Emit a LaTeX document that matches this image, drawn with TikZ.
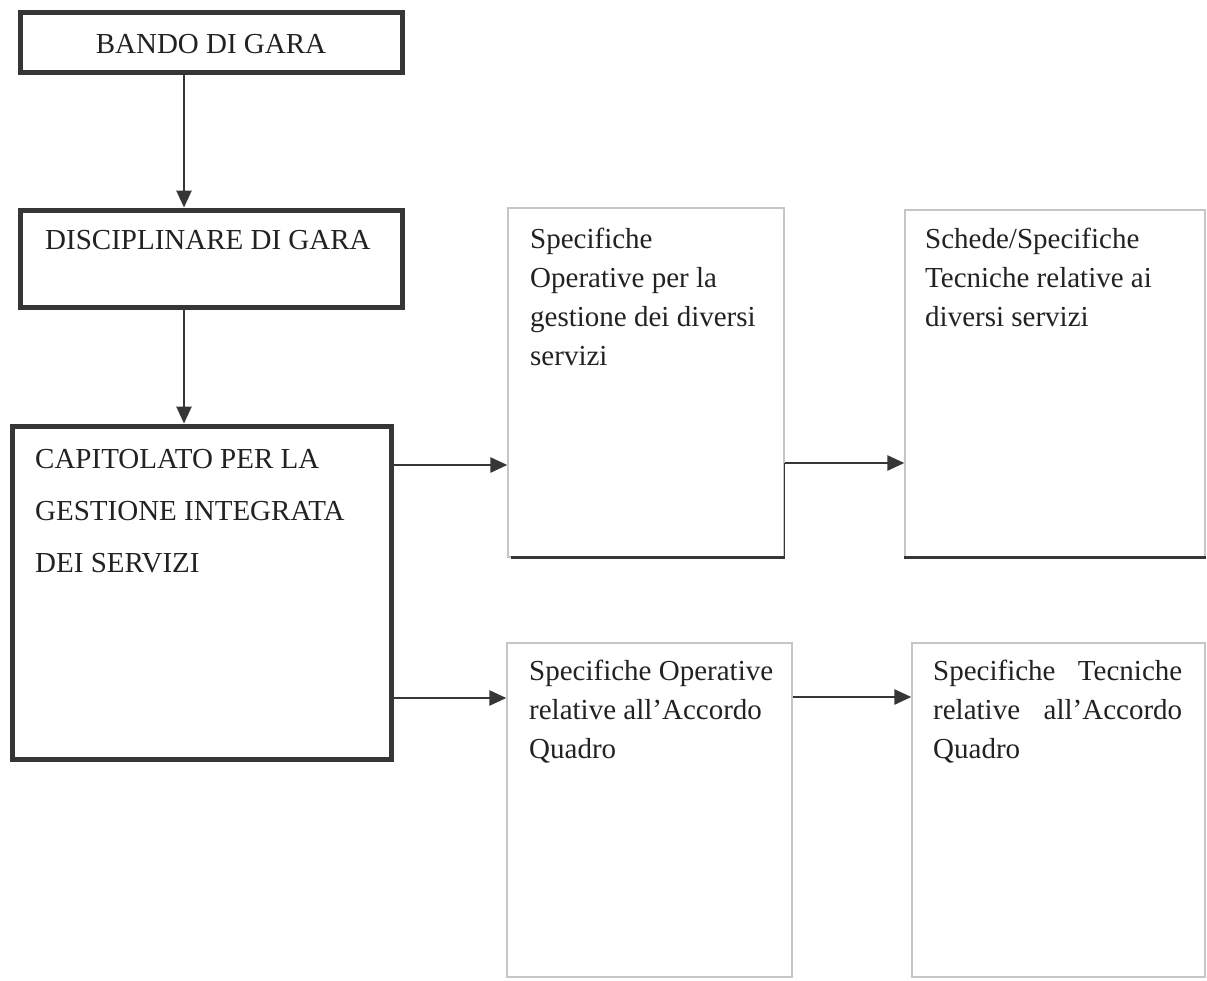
\documentclass[tikz,border=0pt]{standalone}
\usepackage{fontspec}
\setmainfont{Liberation Serif}
\usetikzlibrary{arrows.meta}
\definecolor{ink}{HTML}{222222}
\definecolor{frame}{HTML}{363636}
\definecolor{pale}{HTML}{C6C6C6}
\tikzset{
  thickbox/.style={draw=frame, line width=5pt, inner sep=0pt},
  palebox/.style={draw=pale, line width=1.3pt, inner sep=0pt},
  txt/.style={text=ink, inner sep=0pt, anchor=base west, align=flush left, font=\fontsize{29}{39}\selectfont},
  arr/.style={draw=frame, line width=2.6pt, -{Triangle[length=17pt,width=15pt]}},
  darkedge/.style={draw=frame, line width=2.6pt},
  sideedge/.style={draw=frame, line width=1.6pt},
}
\begin{document}
\begin{tikzpicture}[x=1pt,y=-1pt]
\useasboundingbox (0,0) rectangle (1207,980);
\fill[white] (0,0) rectangle (1207,980);

% boxes
\node[thickbox, minimum width=382pt, minimum height=60pt] (bando) at (211,42) {};
\node[thickbox, minimum width=382pt, minimum height=97pt] (disc) at (211,258.5) {};
\node[thickbox, minimum width=379pt, minimum height=333pt] (capit) at (201.5,592.5) {};
\node[palebox, minimum width=276pt, minimum height=349pt] (so1) at (646,382.5) {};
\node[palebox, minimum width=300pt, minimum height=347pt] (schede) at (1055,383.5) {};
\node[palebox, minimum width=285pt, minimum height=334pt] (soaq) at (649.5,810) {};
\node[palebox, minimum width=293pt, minimum height=334pt] (staq) at (1058.5,810) {};

% texts
\node[txt, anchor=base] (tbando) at (211,53) {BANDO DI GARA};
\node[txt] (tdisc) at (45,249) {DISCIPLINARE DI GARA};
\node[txt, text width=350pt, font=\fontsize{29}{52}\selectfont] (tcap) at (35,468) {CAPITOLATO PER LA\\GESTIONE INTEGRATA\\DEI SERVIZI};
\node[txt, text width=250pt] (tso1) at (530,248) {Specifiche\\Operative per la\\gestione dei diversi\\servizi};
\node[txt, text width=275pt] (tsch) at (925,248) {Schede/Specifiche\\Tecniche relative ai\\diversi servizi};
\node[txt, text width=260pt] (tsoaq) at (529,680) {Specifiche Operative\\relative all’Accordo\\Quadro};
\node[txt, text width=249pt] (tstaq) at (933,680) {Specifiche\hfill Tecniche\\relative\hfill all’Accordo\\Quadro};

% connectors
\coordinate (ax) at (184,0);
\coordinate (r1) at (0,465);
\coordinate (r2) at (0,463);
\coordinate (r3) at (0,698);
\coordinate (r4) at (0,697);
\draw[arr] (bando.south -| ax) -- (disc.north -| ax);
\draw[arr] (disc.south -| ax) -- (capit.north -| ax);
\draw[arr] (capit.east |- r1) -- (so1.west |- r1);
\draw[arr] (so1.east |- r2) -- (schede.west |- r2);
\draw[arr] (capit.east |- r3) -- (soaq.west |- r3);
\draw[arr] (soaq.east |- r4) -- (staq.west |- r4);

% dark edges
\draw[sideedge] (so1.east |- r2) -- (so1.south east);
\draw[darkedge] ([xshift=4pt]so1.south west) -- (so1.south east);
\draw[darkedge] (schede.south west) -- (schede.south east);
\end{tikzpicture}
\end{document}
